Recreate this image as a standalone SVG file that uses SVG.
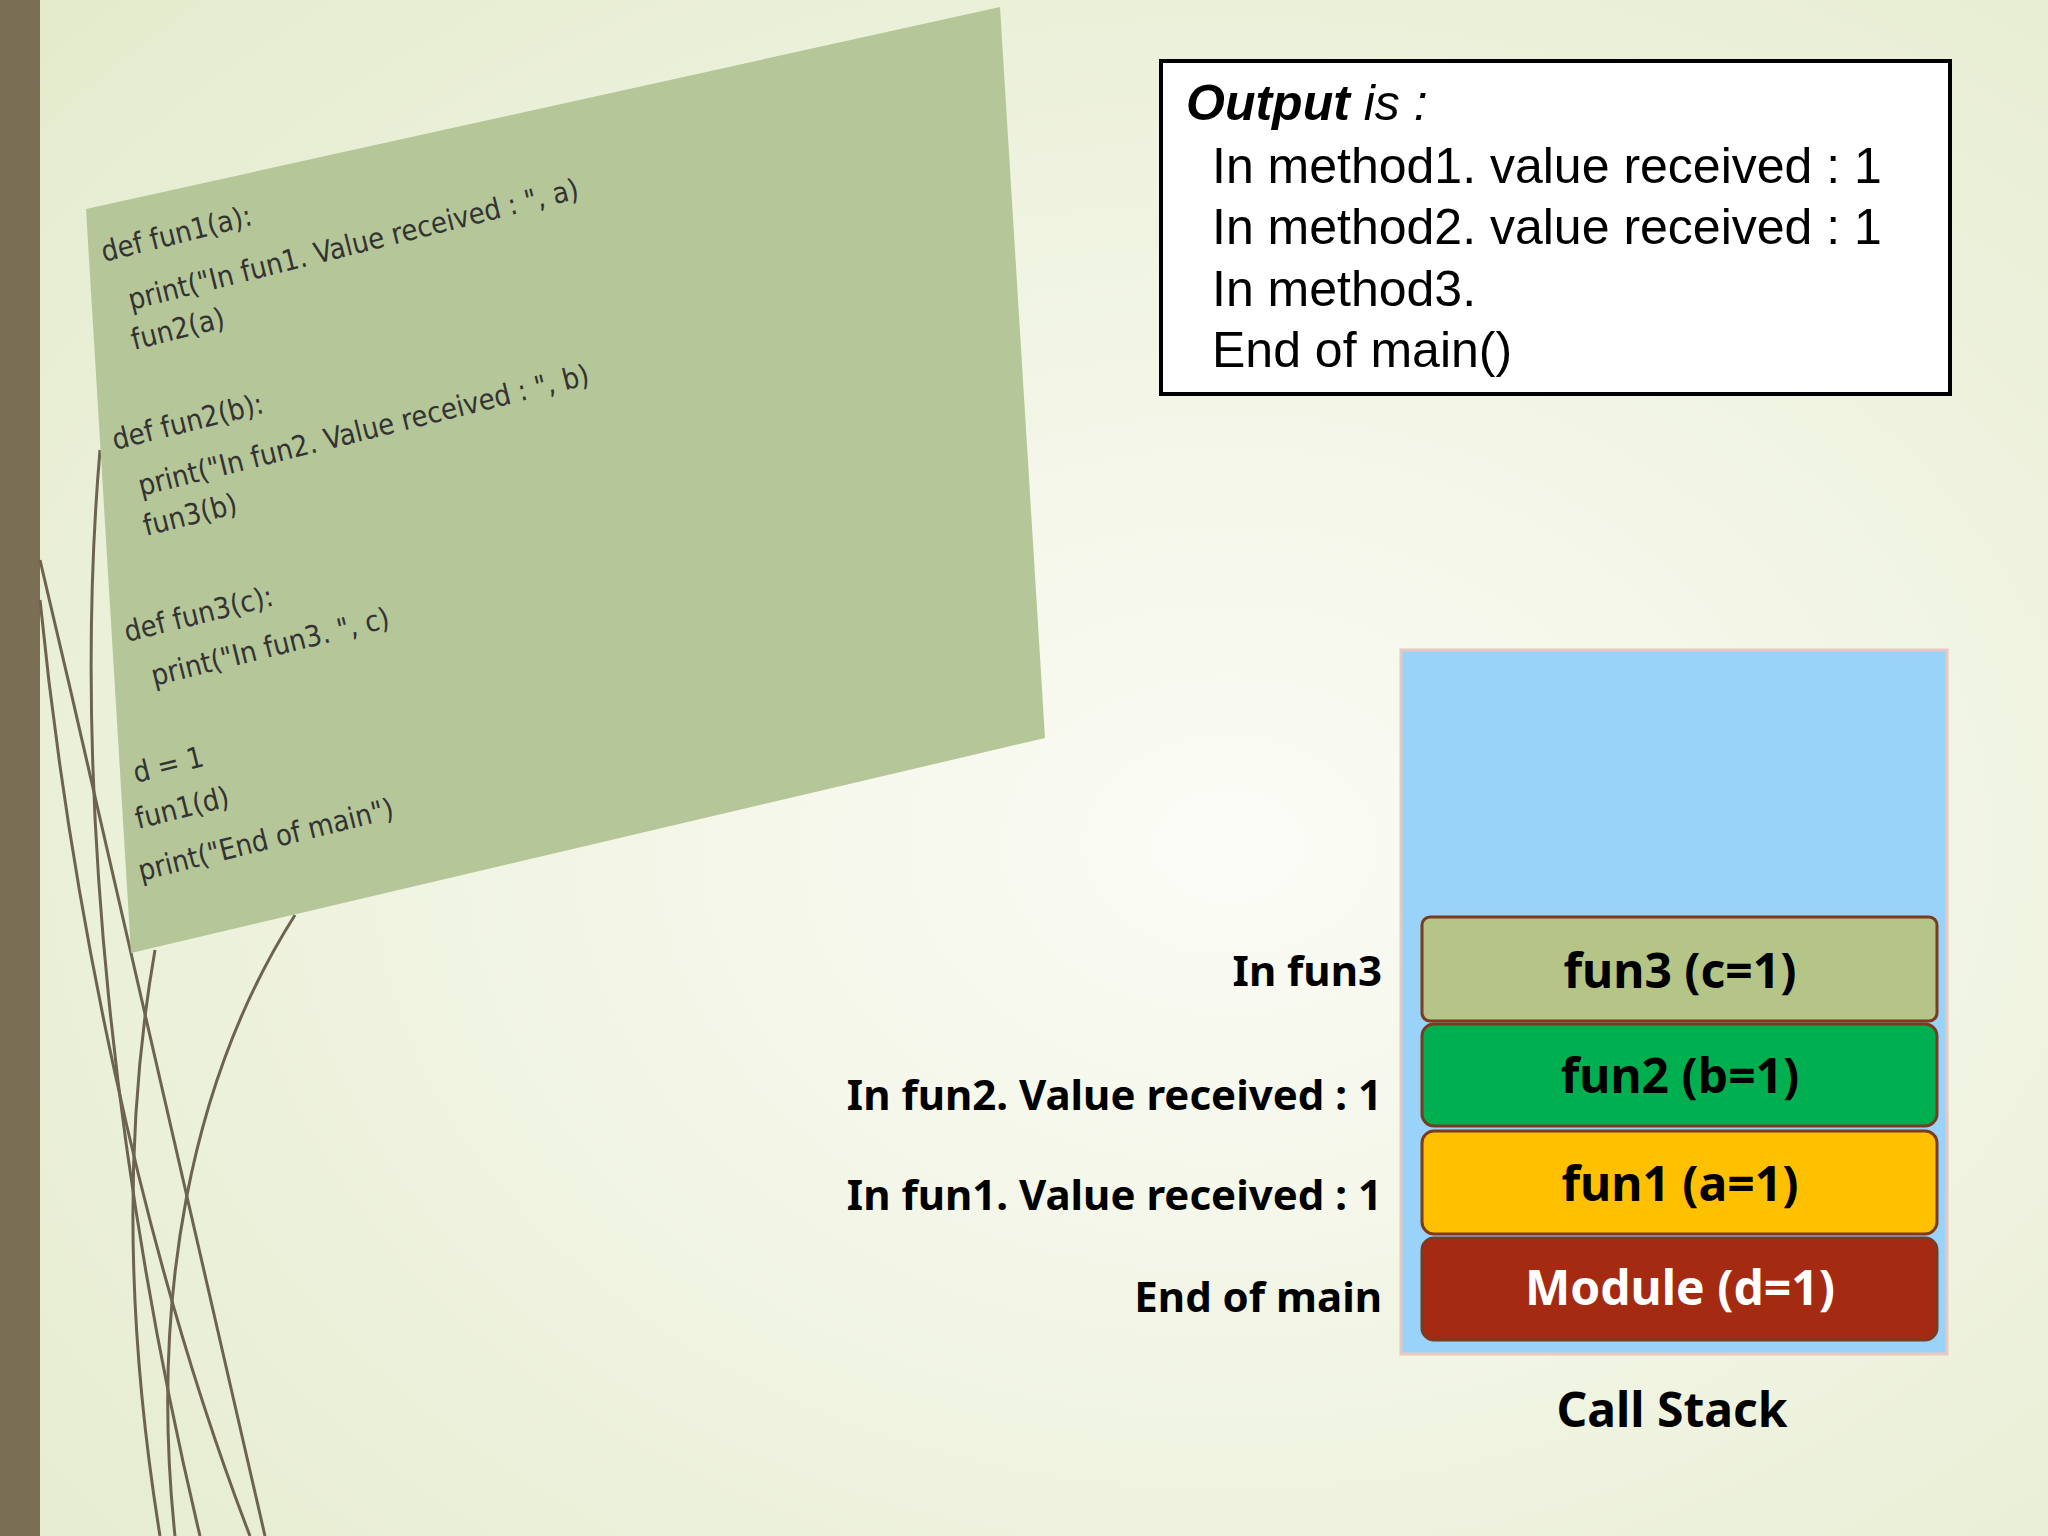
<svg xmlns="http://www.w3.org/2000/svg" width="2048" height="1536" viewBox="0 0 2048 1536">
<defs>
<radialGradient id="bg" cx="0.6" cy="0.55" r="0.8">
<stop offset="0" stop-color="#fbfcf6"/><stop offset="1" stop-color="#e4ebcc"/>
</radialGradient>
<style>
.code{font-family:"DejaVu Sans Condensed","DejaVu Sans",sans-serif;font-size:29px;fill:#333}
.out{font-family:"Liberation Sans",Arial,sans-serif;font-size:50px;fill:#000}
.lbl{font-family:"Noto Sans","Open Sans",sans-serif;font-weight:bold;font-size:42px;fill:#000;text-anchor:end}
.bx{font-family:"Noto Sans","Open Sans",sans-serif;font-weight:bold;font-size:48px;text-anchor:middle}
.frame{stroke:#7a3b1e;stroke-width:3}
.curve{fill:none;stroke:#6d6450;stroke-width:3}
</style>
</defs>
<rect width="2048" height="1536" fill="url(#bg)"/>
<rect x="0" y="0" width="40" height="1536" fill="#7a6e55"/>
<g id="curves">
<path class="curve" d="M40 600 C 70 900, 140 1250, 250 1536"/>
<path class="curve" d="M40 560 C 120 900, 200 1250, 265 1536"/>
<path class="curve" d="M100 450 C 70 800, 120 1200, 200 1536"/>
<path class="curve" d="M295 915 C 190 1080, 150 1300, 175 1536"/>
<path class="curve" d="M155 950 C 120 1150, 130 1350, 160 1536" stroke="#d8dcc4"/>
</g>
<g id="code">
<polygon points="86,209 1000,7 1045,738 131,953" fill="#b5c698"/>
<text class="code" x="104" y="262" transform="rotate(-14 104 262)">def fun1(a):</text>
<text class="code" x="131" y="310" transform="rotate(-14 131 310)">print("In fun1. Value received : ", a)</text>
<text class="code" x="134" y="350" transform="rotate(-14 134 350)">fun2(a)</text>
<text class="code" x="115" y="450" transform="rotate(-14 115 450)">def fun2(b):</text>
<text class="code" x="141" y="496" transform="rotate(-14 141 496)">print("In fun2. Value received : ", b)</text>
<text class="code" x="146" y="536" transform="rotate(-14 146 536)">fun3(b)</text>
<text class="code" x="127" y="642" transform="rotate(-14 127 642)">def fun3(c):</text>
<text class="code" x="154" y="686" transform="rotate(-14 154 686)">print("In fun3. ", c)</text>
<text class="code" x="136" y="783" transform="rotate(-14 136 783)">d = 1</text>
<text class="code" x="138" y="829" transform="rotate(-14 138 829)">fun1(d)</text>
<text class="code" x="141" y="881" transform="rotate(-14 141 881)">print("End of main")</text>
</g>
<g id="output">
<rect x="1161" y="61" width="789" height="333" fill="#fff" stroke="#000" stroke-width="4"/>
<text class="out" x="1186" y="120"><tspan font-weight="bold" font-style="italic">Output</tspan><tspan font-style="italic"> is :</tspan></text>
<text class="out" x="1212" y="183">In method1. value received : 1</text>
<text class="out" x="1212" y="244">In method2. value received : 1</text>
<text class="out" x="1212" y="306">In method3.</text>
<text class="out" x="1212" y="367">End of main()</text>
</g>
<g id="stack">
<rect x="1401" y="650" width="546" height="704" fill="#99d3fa" stroke="#e8c8c0" stroke-width="3"/>
</g>
<g id="fun3"><rect class="frame" x="1422" y="917" width="515" height="104" rx="8" fill="#b5c588"/><text class="bx" x="1680" y="988" fill="#000">fun3 (c=1)</text></g>
<g id="fun2"><rect class="frame" x="1422" y="1024" width="515" height="102" rx="12" fill="#00b050"/><text class="bx" x="1680" y="1093" fill="#000">fun2 (b=1)</text></g>
<g id="fun1"><rect class="frame" x="1422" y="1131" width="515" height="103" rx="12" fill="#ffc000"/><text class="bx" x="1680" y="1201" fill="#000">fun1 (a=1)</text></g>
<g id="module"><rect class="frame" x="1422" y="1238" width="515" height="102" rx="12" fill="#a52a12"/><text class="bx" x="1680" y="1305" fill="#fff">Module (d=1)</text></g>
<g id="labels">
<text class="lbl" x="1382" y="986">In fun3</text>
<text class="lbl" x="1382" y="1110">In fun2. Value received : 1</text>
<text class="lbl" x="1382" y="1210">In fun1. Value received : 1</text>
<text class="lbl" x="1382" y="1312">End of main</text>
<text class="bx" x="1672" y="1427" fill="#000" font-size="50">Call Stack</text>
</g>
</svg>
